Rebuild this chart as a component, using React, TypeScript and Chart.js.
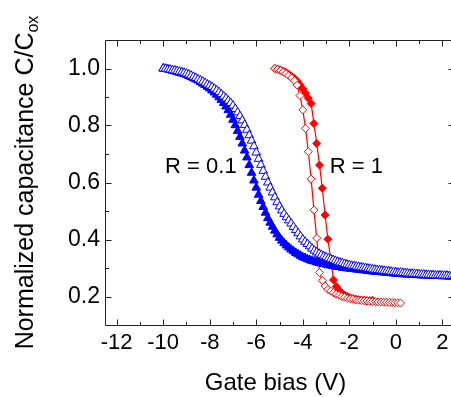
import React, { useEffect, useRef } from "react";
import { Chart, registerables } from "chart.js";

Chart.register(...registerables);

const FONT = "'Liberation Sans', Arial, Helvetica, sans-serif";

const xTicks = [-12, -10, -8, -6, -4, -2, 0, 2];
const xMinorTicks = [-11, -9, -7, -5, -3, -1, 1];
const yTicks = [0.2, 0.4, 0.6, 0.8, 1.0];
const yMinorTicks = [0.3, 0.5, 0.7, 0.9];

const xTitle = "Gate bias (V)";
const yTitleMain = "Normalized capacitance C/C";
const yTitleSub = "ox";

// R = 0.1 (blue, triangles)
const biasBlue = [
  -10.0, -9.9, -9.8, -9.7, -9.6, -9.5, -9.4, -9.3, -9.2, -9.1,
  -9.0, -8.9, -8.8, -8.7, -8.6, -8.5, -8.4, -8.3, -8.2, -8.1,
  -8.0, -7.9, -7.8, -7.7, -7.6, -7.5, -7.4, -7.3, -7.2, -7.1,
  -7.0, -6.9, -6.8, -6.7, -6.6, -6.5, -6.4, -6.3, -6.2, -6.1,
  -6.0, -5.9, -5.8, -5.7, -5.6, -5.5, -5.4, -5.3, -5.2, -5.1,
  -5.0, -4.9, -4.8, -4.7, -4.6, -4.5, -4.4, -4.3, -4.2, -4.1,
  -4.0, -3.9, -3.8, -3.7, -3.6, -3.5, -3.4, -3.3, -3.2, -3.1,
  -3.0, -2.9, -2.8, -2.7, -2.6, -2.5, -2.4, -2.3, -2.2, -2.1,
  -2.0, -1.9, -1.8, -1.7, -1.6, -1.5, -1.4, -1.3, -1.2, -1.1,
  -1.0, -0.9, -0.8, -0.7, -0.6, -0.5, -0.4, -0.3, -0.2, -0.1,
  0.0, 0.1, 0.2, 0.3, 0.4, 0.5, 0.6, 0.7, 0.8, 0.9,
  1.0, 1.1, 1.2, 1.3, 1.4, 1.5, 1.6, 1.7, 1.8, 1.9,
  2.0, 2.1, 2.2, 2.3, 2.4, 2.5,
];
const capBlueOpen = [
  1.0, 0.999, 0.997, 0.996, 0.994, 0.993, 0.991, 0.989, 0.987, 0.985,
  0.982, 0.979, 0.975, 0.971, 0.967, 0.962, 0.958, 0.954, 0.949, 0.944,
  0.94, 0.935, 0.929, 0.923, 0.917, 0.91, 0.902, 0.895, 0.887, 0.879,
  0.87, 0.858, 0.846, 0.833, 0.818, 0.802, 0.785, 0.766, 0.747, 0.727,
  0.705, 0.683, 0.662, 0.641, 0.62, 0.6, 0.582, 0.565, 0.548, 0.531,
  0.516, 0.502, 0.49, 0.478, 0.467, 0.456, 0.444, 0.433, 0.422, 0.411,
  0.4, 0.392, 0.384, 0.376, 0.368, 0.361, 0.355, 0.35, 0.346, 0.341,
  0.338, 0.334, 0.331, 0.328, 0.325, 0.322, 0.319, 0.317, 0.314, 0.312,
  0.31, 0.308, 0.307, 0.305, 0.304, 0.302, 0.301, 0.3, 0.298, 0.297,
  0.295, 0.294, 0.293, 0.292, 0.291, 0.29, 0.289, 0.288, 0.287, 0.286,
  0.285, 0.284, 0.284, 0.283, 0.282, 0.281, 0.28, 0.28, 0.279, 0.279,
  0.278, 0.277, 0.277, 0.276, 0.276, 0.275, 0.275, 0.274, 0.274, 0.274,
  0.273, 0.273, 0.273, 0.272, 0.272, 0.272,
];
const capBlueFilled = [
  1.0, 0.999, 0.997, 0.995, 0.992, 0.99, 0.988, 0.985, 0.983, 0.981,
  0.978, 0.974, 0.97, 0.966, 0.962, 0.958, 0.953, 0.947, 0.942, 0.936,
  0.93, 0.923, 0.916, 0.908, 0.899, 0.89, 0.879, 0.867, 0.854, 0.838,
  0.82, 0.801, 0.781, 0.76, 0.737, 0.712, 0.688, 0.661, 0.634, 0.607,
  0.582, 0.557, 0.535, 0.514, 0.494, 0.475, 0.459, 0.445, 0.431, 0.418,
  0.406, 0.396, 0.387, 0.379, 0.372, 0.365, 0.359, 0.353, 0.348, 0.343,
  0.338, 0.335, 0.331, 0.328, 0.325, 0.323, 0.32, 0.318, 0.316, 0.314,
  0.312, 0.31, 0.309, 0.307, 0.305, 0.304, 0.303, 0.301, 0.3, 0.299,
  0.298, 0.297, 0.296, 0.295, 0.294, 0.293, 0.292, 0.291, 0.29, 0.289,
  0.288, 0.287, 0.287, 0.286, 0.285, 0.284, 0.283, 0.283, 0.282, 0.281,
  0.28, 0.28, 0.279, 0.278, 0.278, 0.277, 0.277, 0.276, 0.276, 0.275,
  0.275, 0.274, 0.274, 0.274, 0.273, 0.273, 0.273, 0.272, 0.272, 0.272,
  0.271, 0.271, 0.271, 0.27, 0.27, 0.27,
];

// R = 1 (red, diamonds)
const biasRedOpen = [
  -5.2, -5.08, -4.96, -4.84, -4.72, -4.6, -4.48, -4.36, -4.24, -4.12, -4.0, -3.88,
  -3.76, -3.64, -3.52, -3.4, -3.28, -3.16, -3.04, -2.92, -2.8, -2.68, -2.56, -2.44,
  -2.32, -2.2, -2.08, -1.96, -1.84, -1.72, -1.6, -1.48, -1.36, -1.24, -1.12, -1.0,
  -0.88, -0.76, -0.64, -0.52, -0.4, -0.28, -0.16, -0.04, 0.08, 0.2,
];
const capRedOpen = [
  1.0, 0.997, 0.993, 0.988, 0.982, 0.975, 0.967, 0.957, 0.942, 0.905, 0.855, 0.79,
  0.708, 0.612, 0.503, 0.405, 0.284, 0.256, 0.237, 0.225, 0.219, 0.213, 0.208, 0.204,
  0.2, 0.197, 0.194, 0.192, 0.19, 0.188, 0.187, 0.186, 0.185, 0.184, 0.183, 0.182,
  0.182, 0.181, 0.181, 0.18, 0.18, 0.179, 0.179, 0.178, 0.178, 0.177,
];
const biasRedFilled = [
  -5.2, -5.08, -4.96, -4.84, -4.72, -4.6, -4.48, -4.36, -4.24, -4.12, -4.0, -3.88,
  -3.76, -3.64, -3.52, -3.4, -3.28, -3.16, -3.04, -2.92, -2.8, -2.68, -2.56, -2.44,
  -2.32, -2.2, -2.08, -1.96, -1.84, -1.72, -1.6, -1.48, -1.36, -1.24, -1.12, -1.0,
];
const capRedFilled = [
  1.0, 0.998, 0.995, 0.991, 0.986, 0.98, 0.973, 0.965, 0.955, 0.943, 0.929, 0.913,
  0.896, 0.877, 0.807, 0.737, 0.661, 0.58, 0.486, 0.401, 0.334, 0.258, 0.235, 0.222,
  0.212, 0.205, 0.2, 0.196, 0.193, 0.191, 0.189, 0.188, 0.187, 0.186, 0.186, 0.187,
];

const labels = [
  { text: "R = 0.1", x: -8.38, y: 0.633 },
  { text: "R = 1", x: -1.7, y: 0.633 },
];

const zip = (xs: number[], ys: number[]) => xs.map((x, i) => ({ x, y: ys[i] }));

const framePlugin = {
  id: "frame",
  afterDraw(chart: any) {
    const { ctx, chartArea, scales } = chart;
    const { left, right, top, bottom } = chartArea;
    const xs = scales.x;
    const ys = scales.y;
    const L = Math.round(left) + 0.5;
    const T = Math.round(top) + 0.5;
    const B = Math.round(bottom) + 0.5;
    const R = Math.round(right) + 0.5;
    ctx.save();
    ctx.strokeStyle = "#222";
    ctx.lineWidth = 1;
    ctx.beginPath();
    ctx.moveTo(L, B);
    ctx.lineTo(L, T);
    ctx.lineTo(R, T);
    ctx.lineTo(R, B);
    ctx.lineTo(L, B);
    const major = 6;
    const minor = 3.5;
    const xt = (v: number, len: number) => {
      const px = Math.round(xs.getPixelForValue(v)) + 0.5;
      ctx.moveTo(px, B);
      ctx.lineTo(px, B - len);
      ctx.moveTo(px, T);
      ctx.lineTo(px, T + len);
    };
    const yt = (v: number, len: number) => {
      const py = Math.round(ys.getPixelForValue(v)) + 0.5;
      ctx.moveTo(L, py);
      ctx.lineTo(L + len, py);
      ctx.moveTo(R, py);
      ctx.lineTo(R - len, py);
    };
    xTicks.forEach((v) => xt(v, major));
    xMinorTicks.forEach((v) => xt(v, minor));
    yTicks.forEach((v) => yt(v, major));
    yMinorTicks.forEach((v) => yt(v, minor));
    ctx.stroke();

    ctx.fillStyle = "#000";
    ctx.font = `22px ${FONT}`;
    ctx.textAlign = "center";
    ctx.textBaseline = "alphabetic";
    labels.forEach((l) => {
      ctx.fillText(l.text, xs.getPixelForValue(l.x), ys.getPixelForValue(l.y));
    });

    ctx.font = `24px ${FONT}`;
    ctx.textAlign = "center";
    ctx.fillText(xTitle, (left + right) / 2 - 4, 390);

    const mainFont = `25px ${FONT}`;
    const subFont = `16px ${FONT}`;
    ctx.font = mainFont;
    const w1 = ctx.measureText(yTitleMain).width;
    ctx.font = subFont;
    const w2 = ctx.measureText(yTitleSub).width;
    const total = w1 + w2;
    ctx.translate(33, (top + bottom) / 2);
    ctx.rotate(-Math.PI / 2);
    ctx.textAlign = "left";
    ctx.font = mainFont;
    ctx.fillText(yTitleMain, -total / 2, 0);
    ctx.font = subFont;
    ctx.fillText(yTitleSub, -total / 2 + w1, 5);
    ctx.restore();
  },
};

export default function App() {
  const ref = useRef<HTMLCanvasElement | null>(null);
  useEffect(() => {
    if (!ref.current) return;
    const chart = new Chart(ref.current, {
      type: "scatter",
      data: {
        datasets: [
          {
            label: "R=0.1 open",
            data: zip(biasBlue, capBlueOpen),
            showLine: false,
            pointStyle: "triangle",
            pointRadius: 5,
            pointBorderWidth: 1,
            pointBorderColor: "#0000ff",
            pointBackgroundColor: "#ffffff",
            order: 1,
          },
          {
            label: "R=0.1 filled",
            data: zip(biasBlue, capBlueFilled),
            showLine: false,
            pointStyle: "triangle",
            pointRadius: 5,
            pointBorderWidth: 1,
            pointBorderColor: "#0000ff",
            pointBackgroundColor: "#0000ff",
            order: 2,
          },
          {
            label: "R=1 open",
            data: zip(biasRedOpen, capRedOpen),
            showLine: true,
            borderColor: "#ff0000",
            borderWidth: 1.2,
            pointStyle: "rectRot",
            pointRadius: 4,
            pointBorderWidth: 1,
            pointBorderColor: "#ff0000",
            pointBackgroundColor: "#ffffff",
            order: 3,
          },
          {
            label: "R=1 filled",
            data: zip(biasRedFilled, capRedFilled),
            showLine: true,
            borderColor: "#ff0000",
            borderWidth: 1.2,
            pointStyle: "rectRot",
            pointRadius: 4,
            pointBorderWidth: 1,
            pointBorderColor: "#ff0000",
            pointBackgroundColor: "#ff0000",
            order: 4,
          },
        ],
      },
      options: {
        responsive: false,
        animation: false,
        events: [],
        layout: { padding: { left: 0, top: 40, right: 2.5, bottom: 0 } },
        plugins: { legend: { display: false }, tooltip: { enabled: false } },
        scales: {
          x: {
            type: "linear",
            min: -12.5,
            max: 2.5,
            grid: { display: false, drawTicks: false },
            border: { display: false },
            afterFit: (s: any) => {
              s.height = 72;
            },
            afterBuildTicks: (s: any) => {
              s.ticks = xTicks.map((v) => ({ value: v }));
            },
            ticks: {
              padding: 5,
              autoSkip: false,
              maxRotation: 0,
              color: "#000",
              font: { family: FONT, size: 22 },
              callback: (v: any) => String(v),
            },
          },
          y: {
            type: "linear",
            min: 0.1,
            max: 1.1,
            grid: { display: false, drawTicks: false },
            border: { display: false },
            afterFit: (s: any) => {
              s.width = 105;
            },
            afterBuildTicks: (s: any) => {
              s.ticks = yTicks.map((v) => ({ value: v }));
            },
            ticks: {
              padding: 5,
              autoSkip: false,
              color: "#000",
              font: { family: FONT, size: 23 },
              callback: (v: any) => Number(v).toFixed(1),
            },
          },
        },
      },
      plugins: [framePlugin],
    });
    return () => chart.destroy();
  }, []);

  return (
    <div
      style={{
        position: "absolute",
        left: 0,
        top: 0,
        width: 451,
        height: 397,
        overflow: "hidden",
        background: "#fff",
      }}
    >
      <canvas ref={ref} width={460} height={397} />
    </div>
  );
}
